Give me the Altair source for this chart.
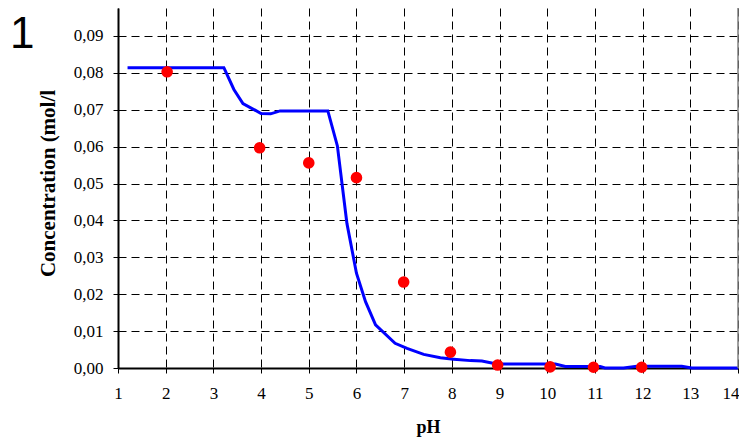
import altair as alt
import pandas as pd

# Model curve (blue line)
line_ph = [1.2, 3.22, 3.43, 3.62, 4.0, 4.2, 4.4, 5.4, 5.6, 5.8, 6.0, 6.19, 6.4, 6.81,
           7.06, 7.41, 7.76, 8.04, 8.39, 8.63, 8.94, 9.15, 10.17, 10.38, 11.11, 11.21,
           11.6, 11.88, 12.82, 13.03, 14.0]
line_conc = [0.0814, 0.0814, 0.0755, 0.0717, 0.0690, 0.0689, 0.0697, 0.0697, 0.0602,
             0.0392, 0.0257, 0.0180, 0.0117, 0.0067, 0.0053, 0.0037, 0.0028, 0.0024,
             0.0020, 0.0019, 0.0011, 0.0011, 0.0011, 0.0004, 0.0004, 0.0, 0.0, 0.0005,
             0.0005, 0.0, 0.0]

# Measured points (red dots)
point_ph = [2.03, 3.97, 5.0, 6.0, 6.99, 7.97, 8.96, 10.06, 10.97, 11.98]
point_conc = [0.0803, 0.0597, 0.0556, 0.0516, 0.0233, 0.0043, 0.0008, 0.0003, 0.0002, 0.0002]

x_ticks = list(range(1, 15))
y_ticks = [0.0, 0.01, 0.02, 0.03, 0.04, 0.05, 0.06, 0.07, 0.08, 0.09]
panel_label = ["1"]
x_title = "pH"
y_title = "Concentration (mol/l"

line_df = pd.DataFrame({"pH": line_ph, "conc": line_conc})
pts_df = pd.DataFrame({"pH": point_ph, "conc": point_conc})
border_df = pd.DataFrame({"pH": [14]})
label_df = pd.DataFrame({"t": panel_label})

FONT = "Liberation Serif"

x_scale = alt.Scale(domain=[1, 14], nice=False, zero=False)
y_scale = alt.Scale(domain=[0, 0.09759], nice=False, zero=True)


def x_axis():
    return alt.Axis(
        values=x_ticks, title=x_title, labelPadding=12, labelOverlap=False,
        labelAlign={"condition": {"test": "datum.value >= 14", "value": "right"}, "value": "center"},
        labelOffset={"condition": {"test": "datum.value >= 14", "value": 1}, "value": 0},
        titleFontSize=18, titleBaseline="alphabetic", titleY=64,
    )


def y_axis():
    return alt.Axis(
        values=y_ticks, title=y_title, labelOverlap=False,
        labelExpr="replace(format(datum.value, '.2f'), '.', ',')",
        labelPadding=10, titleFontSize=21,
        titleX=-60, titleY=175, titleAngle=-90, titleBaseline="bottom",
    )


line = alt.Chart(line_df).mark_line(color="#0000FF", strokeWidth=3).encode(
    x=alt.X("pH:Q", scale=x_scale, axis=x_axis()),
    y=alt.Y("conc:Q", scale=y_scale, axis=y_axis()),
)

pts = alt.Chart(pts_df).mark_circle(color="#FF0000", size=135, opacity=1).encode(
    x=alt.X("pH:Q", scale=x_scale, axis=x_axis()),
    y=alt.Y("conc:Q", scale=y_scale, axis=y_axis()),
)

border = alt.Chart(border_df).mark_rule(color="#808080", strokeWidth=1.5).encode(
    x=alt.X("pH:Q", scale=x_scale, axis=x_axis()),
)

label = alt.Chart(label_df).mark_text(
    font="Liberation Sans", fontSize=44, align="left", baseline="alphabetic", color="black"
).encode(
    text="t:N", x=alt.value(-108), y=alt.value(40),
)

chart = alt.layer(line, border, pts, label).properties(
    width=620, height=360,
    autosize=alt.AutoSizeParams(type="none"),
    padding={"left": 110, "top": 0, "right": 1, "bottom": 69},
    background="white",
).configure_view(stroke=None).configure_axis(
    labelFont=FONT, labelFontSize=17, labelColor="black", labelFlush=False,
    tickSize=5, tickColor="black", tickWidth=1,
    domainColor="black", domainWidth=2,
    grid=True, gridDash=[8, 5], gridColor="black", gridWidth=1, gridOpacity=1,
    titleFont=FONT, titleFontWeight="bold", titleColor="black",
)

chart.save("out.html", embed_options={"renderer": "svg", "actions": False})
